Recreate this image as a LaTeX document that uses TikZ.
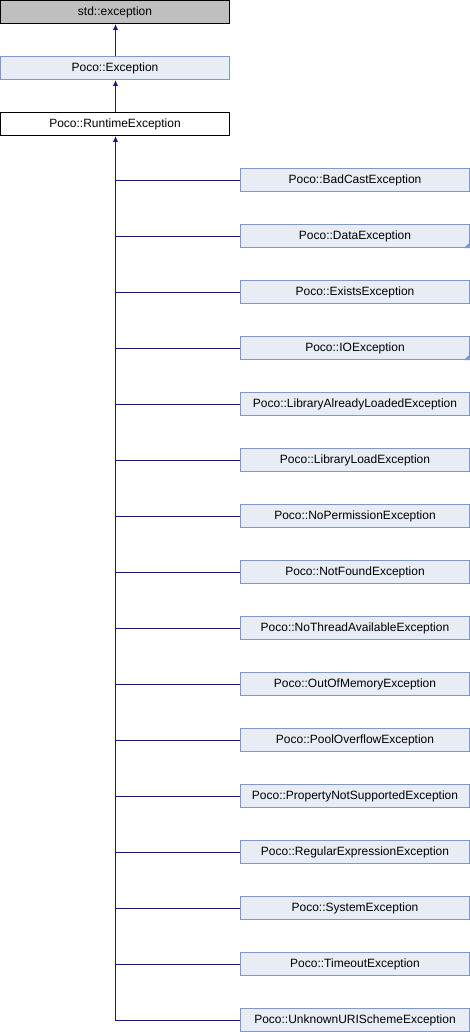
\documentclass[tikz,border=0pt]{standalone}
\usepackage{fontspec}
\setmainfont{Liberation Sans}
\usetikzlibrary{arrows.meta}
\definecolor{edgeblue}{HTML}{191970}
\definecolor{boxfill}{HTML}{E8ECF4}
\definecolor{boxdraw}{HTML}{7F98CC}
\definecolor{grayfill}{HTML}{BFBFBF}
\begin{document}
\begin{tikzpicture}[x=1pt,y=-1pt,
  cls/.style={draw=boxdraw,fill=boxfill,line width=1pt,minimum width=229pt,minimum height=23pt,inner sep=0pt,font=\fontsize{12}{13}\selectfont},
  stdbox/.style={cls,draw=black,fill=grayfill},
  rtbox/.style={cls,draw=black,fill=white},
  inh/.style={draw=edgeblue,line width=1.3pt},
  tip/.style={-{Latex[length=6pt,width=5.5pt]}}
]
\useasboundingbox (0,0) rectangle (470,1032);
\node[stdbox] (std) at (115,12) {std::exception};
\node[cls] (pex) at (115,68) {Poco::Exception};
\node[rtbox] (rt) at (115,124) {Poco::RuntimeException};
\draw[inh,tip] (pex.north -| 115.5,0) -- (std.south -| 115.5,0);
\draw[inh,tip] (rt.north -| 115.5,0) -- (pex.south -| 115.5,0);
\foreach \i/\name/\more in {0/BadCastException/0,1/DataException/1,2/ExistsException/0,3/IOException/1,4/LibraryAlreadyLoadedException/0,5/LibraryLoadException/0,6/NoPermissionException/0,7/NotFoundException/0,8/NoThreadAvailableException/0,9/OutOfMemoryException/0,10/PoolOverflowException/0,11/PropertyNotSupportedException/0,12/RegularExpressionException/0,13/SystemException/0,14/TimeoutException/0,15/UnknownURISchemeException/0}{
  \node[cls] (c\i) at (355,{180+56*\i}) {Poco::\name};
  \ifnum\more=1
    \fill[boxdraw] (c\i.south east) -- ++(0,-6) -- ++(-6,6) -- cycle;
  \fi
}
\coordinate (bend) at (115.5,{180.5+56*15});
\draw[inh,tip] (bend) -- (rt.south -| 115.5,0);
\foreach \i in {0,...,15}{
  \draw[inh] (115.5,{180.5+56*\i}) -- (c\i.west |- 0,{180.5+56*\i});
}
\end{tikzpicture}
\end{document}
